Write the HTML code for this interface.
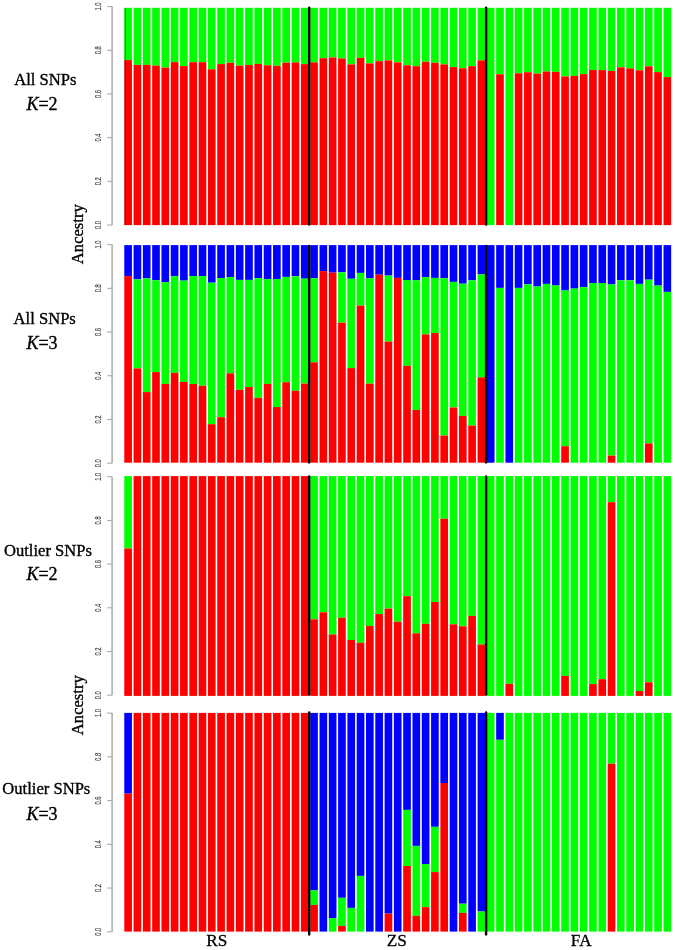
<!DOCTYPE html>
<html><head><meta charset="utf-8"><style>
html,body{margin:0;padding:0;background:#fff;}
body{width:675px;height:950px;overflow:hidden;}
svg{display:block;will-change:transform;}
</style></head><body>
<svg width="675" height="950" viewBox="0 0 675 950">
<rect x="0" y="0" width="675" height="950" fill="#fff"/>
<rect x="124.28" y="7.80" width="7.66" height="52.30" fill="#00ff00"/>
<rect x="124.28" y="60.10" width="7.66" height="165.00" fill="#ff0000"/>
<rect x="124.28" y="245.10" width="7.66" height="31.00" fill="#0000ff"/>
<rect x="124.28" y="276.10" width="7.66" height="186.60" fill="#ff0000"/>
<rect x="124.28" y="476.10" width="7.66" height="72.40" fill="#00ff00"/>
<rect x="124.28" y="548.50" width="7.66" height="147.40" fill="#ff0000"/>
<rect x="124.28" y="712.90" width="7.66" height="80.70" fill="#0000ff"/>
<rect x="124.28" y="793.60" width="7.66" height="138.00" fill="#ff0000"/>
<rect x="133.58" y="7.80" width="7.66" height="57.10" fill="#00ff00"/>
<rect x="133.58" y="64.90" width="7.66" height="160.20" fill="#ff0000"/>
<rect x="133.58" y="245.10" width="7.66" height="34.30" fill="#0000ff"/>
<rect x="133.58" y="279.40" width="7.66" height="89.00" fill="#00ff00"/>
<rect x="133.58" y="368.40" width="7.66" height="94.30" fill="#ff0000"/>
<rect x="133.58" y="476.10" width="7.66" height="219.80" fill="#ff0000"/>
<rect x="133.58" y="712.90" width="7.66" height="218.70" fill="#ff0000"/>
<rect x="142.87" y="7.80" width="7.66" height="57.10" fill="#00ff00"/>
<rect x="142.87" y="64.90" width="7.66" height="160.20" fill="#ff0000"/>
<rect x="142.87" y="245.10" width="7.66" height="33.30" fill="#0000ff"/>
<rect x="142.87" y="278.40" width="7.66" height="113.70" fill="#00ff00"/>
<rect x="142.87" y="392.10" width="7.66" height="70.60" fill="#ff0000"/>
<rect x="142.87" y="476.10" width="7.66" height="219.80" fill="#ff0000"/>
<rect x="142.87" y="712.90" width="7.66" height="218.70" fill="#ff0000"/>
<rect x="152.17" y="7.80" width="7.66" height="57.80" fill="#00ff00"/>
<rect x="152.17" y="65.60" width="7.66" height="159.50" fill="#ff0000"/>
<rect x="152.17" y="245.10" width="7.66" height="35.20" fill="#0000ff"/>
<rect x="152.17" y="280.30" width="7.66" height="91.80" fill="#00ff00"/>
<rect x="152.17" y="372.10" width="7.66" height="90.60" fill="#ff0000"/>
<rect x="152.17" y="476.10" width="7.66" height="219.80" fill="#ff0000"/>
<rect x="152.17" y="712.90" width="7.66" height="218.70" fill="#ff0000"/>
<rect x="161.47" y="7.80" width="7.66" height="59.80" fill="#00ff00"/>
<rect x="161.47" y="67.60" width="7.66" height="157.50" fill="#ff0000"/>
<rect x="161.47" y="245.10" width="7.66" height="37.10" fill="#0000ff"/>
<rect x="161.47" y="282.20" width="7.66" height="101.70" fill="#00ff00"/>
<rect x="161.47" y="383.90" width="7.66" height="78.80" fill="#ff0000"/>
<rect x="161.47" y="476.10" width="7.66" height="219.80" fill="#ff0000"/>
<rect x="161.47" y="712.90" width="7.66" height="218.70" fill="#ff0000"/>
<rect x="170.76" y="7.80" width="7.66" height="54.30" fill="#00ff00"/>
<rect x="170.76" y="62.10" width="7.66" height="163.00" fill="#ff0000"/>
<rect x="170.76" y="245.10" width="7.66" height="31.20" fill="#0000ff"/>
<rect x="170.76" y="276.30" width="7.66" height="96.60" fill="#00ff00"/>
<rect x="170.76" y="372.90" width="7.66" height="89.80" fill="#ff0000"/>
<rect x="170.76" y="476.10" width="7.66" height="219.80" fill="#ff0000"/>
<rect x="170.76" y="712.90" width="7.66" height="218.70" fill="#ff0000"/>
<rect x="180.06" y="7.80" width="7.66" height="58.30" fill="#00ff00"/>
<rect x="180.06" y="66.10" width="7.66" height="159.00" fill="#ff0000"/>
<rect x="180.06" y="245.10" width="7.66" height="35.50" fill="#0000ff"/>
<rect x="180.06" y="280.60" width="7.66" height="101.30" fill="#00ff00"/>
<rect x="180.06" y="381.90" width="7.66" height="80.80" fill="#ff0000"/>
<rect x="180.06" y="476.10" width="7.66" height="219.80" fill="#ff0000"/>
<rect x="180.06" y="712.90" width="7.66" height="218.70" fill="#ff0000"/>
<rect x="189.36" y="7.80" width="7.66" height="54.40" fill="#00ff00"/>
<rect x="189.36" y="62.20" width="7.66" height="162.90" fill="#ff0000"/>
<rect x="189.36" y="245.10" width="7.66" height="31.00" fill="#0000ff"/>
<rect x="189.36" y="276.10" width="7.66" height="107.90" fill="#00ff00"/>
<rect x="189.36" y="384.00" width="7.66" height="78.70" fill="#ff0000"/>
<rect x="189.36" y="476.10" width="7.66" height="219.80" fill="#ff0000"/>
<rect x="189.36" y="712.90" width="7.66" height="218.70" fill="#ff0000"/>
<rect x="198.66" y="7.80" width="7.66" height="54.40" fill="#00ff00"/>
<rect x="198.66" y="62.20" width="7.66" height="162.90" fill="#ff0000"/>
<rect x="198.66" y="245.10" width="7.66" height="31.00" fill="#0000ff"/>
<rect x="198.66" y="276.10" width="7.66" height="109.70" fill="#00ff00"/>
<rect x="198.66" y="385.80" width="7.66" height="76.90" fill="#ff0000"/>
<rect x="198.66" y="476.10" width="7.66" height="219.80" fill="#ff0000"/>
<rect x="198.66" y="712.90" width="7.66" height="218.70" fill="#ff0000"/>
<rect x="207.95" y="7.80" width="7.66" height="61.50" fill="#00ff00"/>
<rect x="207.95" y="69.30" width="7.66" height="155.80" fill="#ff0000"/>
<rect x="207.95" y="245.10" width="7.66" height="37.60" fill="#0000ff"/>
<rect x="207.95" y="282.70" width="7.66" height="141.50" fill="#00ff00"/>
<rect x="207.95" y="424.20" width="7.66" height="38.50" fill="#ff0000"/>
<rect x="207.95" y="476.10" width="7.66" height="219.80" fill="#ff0000"/>
<rect x="207.95" y="712.90" width="7.66" height="218.70" fill="#ff0000"/>
<rect x="217.25" y="7.80" width="7.66" height="56.30" fill="#00ff00"/>
<rect x="217.25" y="64.10" width="7.66" height="161.00" fill="#ff0000"/>
<rect x="217.25" y="245.10" width="7.66" height="32.90" fill="#0000ff"/>
<rect x="217.25" y="278.00" width="7.66" height="139.20" fill="#00ff00"/>
<rect x="217.25" y="417.20" width="7.66" height="45.50" fill="#ff0000"/>
<rect x="217.25" y="476.10" width="7.66" height="219.80" fill="#ff0000"/>
<rect x="217.25" y="712.90" width="7.66" height="218.70" fill="#ff0000"/>
<rect x="226.55" y="7.80" width="7.66" height="55.00" fill="#00ff00"/>
<rect x="226.55" y="62.80" width="7.66" height="162.30" fill="#ff0000"/>
<rect x="226.55" y="245.10" width="7.66" height="31.90" fill="#0000ff"/>
<rect x="226.55" y="277.00" width="7.66" height="96.30" fill="#00ff00"/>
<rect x="226.55" y="373.30" width="7.66" height="89.40" fill="#ff0000"/>
<rect x="226.55" y="476.10" width="7.66" height="219.80" fill="#ff0000"/>
<rect x="226.55" y="712.90" width="7.66" height="218.70" fill="#ff0000"/>
<rect x="235.84" y="7.80" width="7.66" height="57.80" fill="#00ff00"/>
<rect x="235.84" y="65.60" width="7.66" height="159.50" fill="#ff0000"/>
<rect x="235.84" y="245.10" width="7.66" height="34.80" fill="#0000ff"/>
<rect x="235.84" y="279.90" width="7.66" height="109.90" fill="#00ff00"/>
<rect x="235.84" y="389.80" width="7.66" height="72.90" fill="#ff0000"/>
<rect x="235.84" y="476.10" width="7.66" height="219.80" fill="#ff0000"/>
<rect x="235.84" y="712.90" width="7.66" height="218.70" fill="#ff0000"/>
<rect x="245.14" y="7.80" width="7.66" height="57.20" fill="#00ff00"/>
<rect x="245.14" y="65.00" width="7.66" height="160.10" fill="#ff0000"/>
<rect x="245.14" y="245.10" width="7.66" height="34.80" fill="#0000ff"/>
<rect x="245.14" y="279.90" width="7.66" height="107.10" fill="#00ff00"/>
<rect x="245.14" y="387.00" width="7.66" height="75.70" fill="#ff0000"/>
<rect x="245.14" y="476.10" width="7.66" height="219.80" fill="#ff0000"/>
<rect x="245.14" y="712.90" width="7.66" height="218.70" fill="#ff0000"/>
<rect x="254.44" y="7.80" width="7.66" height="56.10" fill="#00ff00"/>
<rect x="254.44" y="63.90" width="7.66" height="161.20" fill="#ff0000"/>
<rect x="254.44" y="245.10" width="7.66" height="33.00" fill="#0000ff"/>
<rect x="254.44" y="278.10" width="7.66" height="119.70" fill="#00ff00"/>
<rect x="254.44" y="397.80" width="7.66" height="64.90" fill="#ff0000"/>
<rect x="254.44" y="476.10" width="7.66" height="219.80" fill="#ff0000"/>
<rect x="254.44" y="712.90" width="7.66" height="218.70" fill="#ff0000"/>
<rect x="263.74" y="7.80" width="7.66" height="57.50" fill="#00ff00"/>
<rect x="263.74" y="65.30" width="7.66" height="159.80" fill="#ff0000"/>
<rect x="263.74" y="245.10" width="7.66" height="34.00" fill="#0000ff"/>
<rect x="263.74" y="279.10" width="7.66" height="104.80" fill="#00ff00"/>
<rect x="263.74" y="383.90" width="7.66" height="78.80" fill="#ff0000"/>
<rect x="263.74" y="476.10" width="7.66" height="219.80" fill="#ff0000"/>
<rect x="263.74" y="712.90" width="7.66" height="218.70" fill="#ff0000"/>
<rect x="273.03" y="7.80" width="7.66" height="58.00" fill="#00ff00"/>
<rect x="273.03" y="65.80" width="7.66" height="159.30" fill="#ff0000"/>
<rect x="273.03" y="245.10" width="7.66" height="33.90" fill="#0000ff"/>
<rect x="273.03" y="279.00" width="7.66" height="128.00" fill="#00ff00"/>
<rect x="273.03" y="407.00" width="7.66" height="55.70" fill="#ff0000"/>
<rect x="273.03" y="476.10" width="7.66" height="219.80" fill="#ff0000"/>
<rect x="273.03" y="712.90" width="7.66" height="218.70" fill="#ff0000"/>
<rect x="282.33" y="7.80" width="7.66" height="54.90" fill="#00ff00"/>
<rect x="282.33" y="62.70" width="7.66" height="162.40" fill="#ff0000"/>
<rect x="282.33" y="245.10" width="7.66" height="31.80" fill="#0000ff"/>
<rect x="282.33" y="276.90" width="7.66" height="105.30" fill="#00ff00"/>
<rect x="282.33" y="382.20" width="7.66" height="80.50" fill="#ff0000"/>
<rect x="282.33" y="476.10" width="7.66" height="219.80" fill="#ff0000"/>
<rect x="282.33" y="712.90" width="7.66" height="218.70" fill="#ff0000"/>
<rect x="291.63" y="7.80" width="7.66" height="54.60" fill="#00ff00"/>
<rect x="291.63" y="62.40" width="7.66" height="162.70" fill="#ff0000"/>
<rect x="291.63" y="245.10" width="7.66" height="31.20" fill="#0000ff"/>
<rect x="291.63" y="276.30" width="7.66" height="114.50" fill="#00ff00"/>
<rect x="291.63" y="390.80" width="7.66" height="71.90" fill="#ff0000"/>
<rect x="291.63" y="476.10" width="7.66" height="219.80" fill="#ff0000"/>
<rect x="291.63" y="712.90" width="7.66" height="218.70" fill="#ff0000"/>
<rect x="300.92" y="7.80" width="7.66" height="56.30" fill="#00ff00"/>
<rect x="300.92" y="64.10" width="7.66" height="161.00" fill="#ff0000"/>
<rect x="300.92" y="245.10" width="7.66" height="33.60" fill="#0000ff"/>
<rect x="300.92" y="278.70" width="7.66" height="104.90" fill="#00ff00"/>
<rect x="300.92" y="383.60" width="7.66" height="79.10" fill="#ff0000"/>
<rect x="300.92" y="476.10" width="7.66" height="219.80" fill="#ff0000"/>
<rect x="300.92" y="712.90" width="7.66" height="218.70" fill="#ff0000"/>
<rect x="310.22" y="7.80" width="7.66" height="54.60" fill="#00ff00"/>
<rect x="310.22" y="62.40" width="7.66" height="162.70" fill="#ff0000"/>
<rect x="310.22" y="245.10" width="7.66" height="33.10" fill="#0000ff"/>
<rect x="310.22" y="278.20" width="7.66" height="84.10" fill="#00ff00"/>
<rect x="310.22" y="362.30" width="7.66" height="100.40" fill="#ff0000"/>
<rect x="310.22" y="476.10" width="7.66" height="143.20" fill="#00ff00"/>
<rect x="310.22" y="619.30" width="7.66" height="76.60" fill="#ff0000"/>
<rect x="310.22" y="712.90" width="7.66" height="177.50" fill="#0000ff"/>
<rect x="310.22" y="890.40" width="7.66" height="14.50" fill="#00ff00"/>
<rect x="310.22" y="904.90" width="7.66" height="26.70" fill="#ff0000"/>
<rect x="319.52" y="7.80" width="7.66" height="50.40" fill="#00ff00"/>
<rect x="319.52" y="58.20" width="7.66" height="166.90" fill="#ff0000"/>
<rect x="319.52" y="245.10" width="7.66" height="26.00" fill="#0000ff"/>
<rect x="319.52" y="271.10" width="7.66" height="191.60" fill="#ff0000"/>
<rect x="319.52" y="476.10" width="7.66" height="136.20" fill="#00ff00"/>
<rect x="319.52" y="612.30" width="7.66" height="83.60" fill="#ff0000"/>
<rect x="319.52" y="712.90" width="7.66" height="218.70" fill="#0000ff"/>
<rect x="328.81" y="7.80" width="7.66" height="49.70" fill="#00ff00"/>
<rect x="328.81" y="57.50" width="7.66" height="167.60" fill="#ff0000"/>
<rect x="328.81" y="245.10" width="7.66" height="27.50" fill="#0000ff"/>
<rect x="328.81" y="272.60" width="7.66" height="190.10" fill="#ff0000"/>
<rect x="328.81" y="476.10" width="7.66" height="158.40" fill="#00ff00"/>
<rect x="328.81" y="634.50" width="7.66" height="61.40" fill="#ff0000"/>
<rect x="328.81" y="712.90" width="7.66" height="205.20" fill="#0000ff"/>
<rect x="328.81" y="918.10" width="7.66" height="13.50" fill="#00ff00"/>
<rect x="338.11" y="7.80" width="7.66" height="50.70" fill="#00ff00"/>
<rect x="338.11" y="58.50" width="7.66" height="166.60" fill="#ff0000"/>
<rect x="338.11" y="245.10" width="7.66" height="27.20" fill="#0000ff"/>
<rect x="338.11" y="272.30" width="7.66" height="50.40" fill="#00ff00"/>
<rect x="338.11" y="322.70" width="7.66" height="140.00" fill="#ff0000"/>
<rect x="338.11" y="476.10" width="7.66" height="141.70" fill="#00ff00"/>
<rect x="338.11" y="617.80" width="7.66" height="78.10" fill="#ff0000"/>
<rect x="338.11" y="712.90" width="7.66" height="184.90" fill="#0000ff"/>
<rect x="338.11" y="897.80" width="7.66" height="28.10" fill="#00ff00"/>
<rect x="338.11" y="925.90" width="7.66" height="5.70" fill="#ff0000"/>
<rect x="347.41" y="7.80" width="7.66" height="56.60" fill="#00ff00"/>
<rect x="347.41" y="64.40" width="7.66" height="160.70" fill="#ff0000"/>
<rect x="347.41" y="245.10" width="7.66" height="33.70" fill="#0000ff"/>
<rect x="347.41" y="278.80" width="7.66" height="89.30" fill="#00ff00"/>
<rect x="347.41" y="368.10" width="7.66" height="94.60" fill="#ff0000"/>
<rect x="347.41" y="476.10" width="7.66" height="163.90" fill="#00ff00"/>
<rect x="347.41" y="640.00" width="7.66" height="55.90" fill="#ff0000"/>
<rect x="347.41" y="712.90" width="7.66" height="195.00" fill="#0000ff"/>
<rect x="347.41" y="907.90" width="7.66" height="23.70" fill="#00ff00"/>
<rect x="356.71" y="7.80" width="7.66" height="50.10" fill="#00ff00"/>
<rect x="356.71" y="57.90" width="7.66" height="167.20" fill="#ff0000"/>
<rect x="356.71" y="245.10" width="7.66" height="27.80" fill="#0000ff"/>
<rect x="356.71" y="272.90" width="7.66" height="32.70" fill="#00ff00"/>
<rect x="356.71" y="305.60" width="7.66" height="157.10" fill="#ff0000"/>
<rect x="356.71" y="476.10" width="7.66" height="166.60" fill="#00ff00"/>
<rect x="356.71" y="642.70" width="7.66" height="53.20" fill="#ff0000"/>
<rect x="356.71" y="712.90" width="7.66" height="163.00" fill="#0000ff"/>
<rect x="356.71" y="875.90" width="7.66" height="55.70" fill="#00ff00"/>
<rect x="366.00" y="7.80" width="7.66" height="55.60" fill="#00ff00"/>
<rect x="366.00" y="63.40" width="7.66" height="161.70" fill="#ff0000"/>
<rect x="366.00" y="245.10" width="7.66" height="33.10" fill="#0000ff"/>
<rect x="366.00" y="278.20" width="7.66" height="105.40" fill="#00ff00"/>
<rect x="366.00" y="383.60" width="7.66" height="79.10" fill="#ff0000"/>
<rect x="366.00" y="476.10" width="7.66" height="149.80" fill="#00ff00"/>
<rect x="366.00" y="625.90" width="7.66" height="70.00" fill="#ff0000"/>
<rect x="366.00" y="712.90" width="7.66" height="218.70" fill="#0000ff"/>
<rect x="375.30" y="7.80" width="7.66" height="53.40" fill="#00ff00"/>
<rect x="375.30" y="61.20" width="7.66" height="163.90" fill="#ff0000"/>
<rect x="375.30" y="245.10" width="7.66" height="29.60" fill="#0000ff"/>
<rect x="375.30" y="274.70" width="7.66" height="188.00" fill="#ff0000"/>
<rect x="375.30" y="476.10" width="7.66" height="138.00" fill="#00ff00"/>
<rect x="375.30" y="614.10" width="7.66" height="81.80" fill="#ff0000"/>
<rect x="375.30" y="712.90" width="7.66" height="218.70" fill="#0000ff"/>
<rect x="384.60" y="7.80" width="7.66" height="52.60" fill="#00ff00"/>
<rect x="384.60" y="60.40" width="7.66" height="164.70" fill="#ff0000"/>
<rect x="384.60" y="245.10" width="7.66" height="30.50" fill="#0000ff"/>
<rect x="384.60" y="275.60" width="7.66" height="66.00" fill="#00ff00"/>
<rect x="384.60" y="341.60" width="7.66" height="121.10" fill="#ff0000"/>
<rect x="384.60" y="476.10" width="7.66" height="132.50" fill="#00ff00"/>
<rect x="384.60" y="608.60" width="7.66" height="87.30" fill="#ff0000"/>
<rect x="384.60" y="712.90" width="7.66" height="200.70" fill="#0000ff"/>
<rect x="384.60" y="913.60" width="7.66" height="18.00" fill="#ff0000"/>
<rect x="393.89" y="7.80" width="7.66" height="54.60" fill="#00ff00"/>
<rect x="393.89" y="62.40" width="7.66" height="162.70" fill="#ff0000"/>
<rect x="393.89" y="245.10" width="7.66" height="32.80" fill="#0000ff"/>
<rect x="393.89" y="277.90" width="7.66" height="184.80" fill="#ff0000"/>
<rect x="393.89" y="476.10" width="7.66" height="145.60" fill="#00ff00"/>
<rect x="393.89" y="621.70" width="7.66" height="74.20" fill="#ff0000"/>
<rect x="393.89" y="712.90" width="7.66" height="218.70" fill="#0000ff"/>
<rect x="403.19" y="7.80" width="7.66" height="57.50" fill="#00ff00"/>
<rect x="403.19" y="65.30" width="7.66" height="159.80" fill="#ff0000"/>
<rect x="403.19" y="245.10" width="7.66" height="34.90" fill="#0000ff"/>
<rect x="403.19" y="280.00" width="7.66" height="85.80" fill="#00ff00"/>
<rect x="403.19" y="365.80" width="7.66" height="96.90" fill="#ff0000"/>
<rect x="403.19" y="476.10" width="7.66" height="120.10" fill="#00ff00"/>
<rect x="403.19" y="596.20" width="7.66" height="99.70" fill="#ff0000"/>
<rect x="403.19" y="712.90" width="7.66" height="97.00" fill="#0000ff"/>
<rect x="403.19" y="809.90" width="7.66" height="56.10" fill="#00ff00"/>
<rect x="403.19" y="866.00" width="7.66" height="65.60" fill="#ff0000"/>
<rect x="412.49" y="7.80" width="7.66" height="58.40" fill="#00ff00"/>
<rect x="412.49" y="66.20" width="7.66" height="158.90" fill="#ff0000"/>
<rect x="412.49" y="245.10" width="7.66" height="35.20" fill="#0000ff"/>
<rect x="412.49" y="280.30" width="7.66" height="129.70" fill="#00ff00"/>
<rect x="412.49" y="410.00" width="7.66" height="52.70" fill="#ff0000"/>
<rect x="412.49" y="476.10" width="7.66" height="157.20" fill="#00ff00"/>
<rect x="412.49" y="633.30" width="7.66" height="62.60" fill="#ff0000"/>
<rect x="412.49" y="712.90" width="7.66" height="133.00" fill="#0000ff"/>
<rect x="412.49" y="845.90" width="7.66" height="69.90" fill="#00ff00"/>
<rect x="412.49" y="915.80" width="7.66" height="15.80" fill="#ff0000"/>
<rect x="421.78" y="7.80" width="7.66" height="54.00" fill="#00ff00"/>
<rect x="421.78" y="61.80" width="7.66" height="163.30" fill="#ff0000"/>
<rect x="421.78" y="245.10" width="7.66" height="31.90" fill="#0000ff"/>
<rect x="421.78" y="277.00" width="7.66" height="57.40" fill="#00ff00"/>
<rect x="421.78" y="334.40" width="7.66" height="128.30" fill="#ff0000"/>
<rect x="421.78" y="476.10" width="7.66" height="147.70" fill="#00ff00"/>
<rect x="421.78" y="623.80" width="7.66" height="72.10" fill="#ff0000"/>
<rect x="421.78" y="712.90" width="7.66" height="151.20" fill="#0000ff"/>
<rect x="421.78" y="864.10" width="7.66" height="43.10" fill="#00ff00"/>
<rect x="421.78" y="907.20" width="7.66" height="24.40" fill="#ff0000"/>
<rect x="431.08" y="7.80" width="7.66" height="55.00" fill="#00ff00"/>
<rect x="431.08" y="62.80" width="7.66" height="162.30" fill="#ff0000"/>
<rect x="431.08" y="245.10" width="7.66" height="32.80" fill="#0000ff"/>
<rect x="431.08" y="277.90" width="7.66" height="55.10" fill="#00ff00"/>
<rect x="431.08" y="333.00" width="7.66" height="129.70" fill="#ff0000"/>
<rect x="431.08" y="476.10" width="7.66" height="125.90" fill="#00ff00"/>
<rect x="431.08" y="602.00" width="7.66" height="93.90" fill="#ff0000"/>
<rect x="431.08" y="712.90" width="7.66" height="113.90" fill="#0000ff"/>
<rect x="431.08" y="826.80" width="7.66" height="45.30" fill="#00ff00"/>
<rect x="431.08" y="872.10" width="7.66" height="59.50" fill="#ff0000"/>
<rect x="440.38" y="7.80" width="7.66" height="56.60" fill="#00ff00"/>
<rect x="440.38" y="64.40" width="7.66" height="160.70" fill="#ff0000"/>
<rect x="440.38" y="245.10" width="7.66" height="33.10" fill="#0000ff"/>
<rect x="440.38" y="278.20" width="7.66" height="157.40" fill="#00ff00"/>
<rect x="440.38" y="435.60" width="7.66" height="27.10" fill="#ff0000"/>
<rect x="440.38" y="476.10" width="7.66" height="42.60" fill="#00ff00"/>
<rect x="440.38" y="518.70" width="7.66" height="177.20" fill="#ff0000"/>
<rect x="440.38" y="712.90" width="7.66" height="70.10" fill="#0000ff"/>
<rect x="440.38" y="783.00" width="7.66" height="148.60" fill="#ff0000"/>
<rect x="449.68" y="7.80" width="7.66" height="59.30" fill="#00ff00"/>
<rect x="449.68" y="67.10" width="7.66" height="158.00" fill="#ff0000"/>
<rect x="449.68" y="245.10" width="7.66" height="36.80" fill="#0000ff"/>
<rect x="449.68" y="281.90" width="7.66" height="125.60" fill="#00ff00"/>
<rect x="449.68" y="407.50" width="7.66" height="55.20" fill="#ff0000"/>
<rect x="449.68" y="476.10" width="7.66" height="148.20" fill="#00ff00"/>
<rect x="449.68" y="624.30" width="7.66" height="71.60" fill="#ff0000"/>
<rect x="449.68" y="712.90" width="7.66" height="218.70" fill="#0000ff"/>
<rect x="458.97" y="7.80" width="7.66" height="60.50" fill="#00ff00"/>
<rect x="458.97" y="68.30" width="7.66" height="156.80" fill="#ff0000"/>
<rect x="458.97" y="245.10" width="7.66" height="38.60" fill="#0000ff"/>
<rect x="458.97" y="283.70" width="7.66" height="132.20" fill="#00ff00"/>
<rect x="458.97" y="415.90" width="7.66" height="46.80" fill="#ff0000"/>
<rect x="458.97" y="476.10" width="7.66" height="150.20" fill="#00ff00"/>
<rect x="458.97" y="626.30" width="7.66" height="69.60" fill="#ff0000"/>
<rect x="458.97" y="712.90" width="7.66" height="190.80" fill="#0000ff"/>
<rect x="458.97" y="903.70" width="7.66" height="9.20" fill="#00ff00"/>
<rect x="458.97" y="912.90" width="7.66" height="18.70" fill="#ff0000"/>
<rect x="468.27" y="7.80" width="7.66" height="58.40" fill="#00ff00"/>
<rect x="468.27" y="66.20" width="7.66" height="158.90" fill="#ff0000"/>
<rect x="468.27" y="245.10" width="7.66" height="35.20" fill="#0000ff"/>
<rect x="468.27" y="280.30" width="7.66" height="145.30" fill="#00ff00"/>
<rect x="468.27" y="425.60" width="7.66" height="37.10" fill="#ff0000"/>
<rect x="468.27" y="476.10" width="7.66" height="139.80" fill="#00ff00"/>
<rect x="468.27" y="615.90" width="7.66" height="80.00" fill="#ff0000"/>
<rect x="468.27" y="712.90" width="7.66" height="218.70" fill="#0000ff"/>
<rect x="477.57" y="7.80" width="7.66" height="52.60" fill="#00ff00"/>
<rect x="477.57" y="60.40" width="7.66" height="164.70" fill="#ff0000"/>
<rect x="477.57" y="245.10" width="7.66" height="29.30" fill="#0000ff"/>
<rect x="477.57" y="274.40" width="7.66" height="103.00" fill="#00ff00"/>
<rect x="477.57" y="377.40" width="7.66" height="85.30" fill="#ff0000"/>
<rect x="477.57" y="476.10" width="7.66" height="168.40" fill="#00ff00"/>
<rect x="477.57" y="644.50" width="7.66" height="51.40" fill="#ff0000"/>
<rect x="477.57" y="712.90" width="7.66" height="198.60" fill="#0000ff"/>
<rect x="477.57" y="911.50" width="7.66" height="20.10" fill="#00ff00"/>
<rect x="486.86" y="7.80" width="7.66" height="217.30" fill="#00ff00"/>
<rect x="486.86" y="245.10" width="7.66" height="217.60" fill="#0000ff"/>
<rect x="486.86" y="476.10" width="7.66" height="219.80" fill="#00ff00"/>
<rect x="486.86" y="712.90" width="7.66" height="218.70" fill="#00ff00"/>
<rect x="496.16" y="7.80" width="7.66" height="66.50" fill="#00ff00"/>
<rect x="496.16" y="74.30" width="7.66" height="150.80" fill="#ff0000"/>
<rect x="496.16" y="245.10" width="7.66" height="42.80" fill="#0000ff"/>
<rect x="496.16" y="287.90" width="7.66" height="174.80" fill="#00ff00"/>
<rect x="496.16" y="476.10" width="7.66" height="219.80" fill="#00ff00"/>
<rect x="496.16" y="712.90" width="7.66" height="26.90" fill="#0000ff"/>
<rect x="496.16" y="739.80" width="7.66" height="191.80" fill="#00ff00"/>
<rect x="505.46" y="7.80" width="7.66" height="217.30" fill="#00ff00"/>
<rect x="505.46" y="245.10" width="7.66" height="217.60" fill="#0000ff"/>
<rect x="505.46" y="476.10" width="7.66" height="207.70" fill="#00ff00"/>
<rect x="505.46" y="683.80" width="7.66" height="12.10" fill="#ff0000"/>
<rect x="505.46" y="712.90" width="7.66" height="218.70" fill="#00ff00"/>
<rect x="514.75" y="7.80" width="7.66" height="65.50" fill="#00ff00"/>
<rect x="514.75" y="73.30" width="7.66" height="151.80" fill="#ff0000"/>
<rect x="514.75" y="245.10" width="7.66" height="42.80" fill="#0000ff"/>
<rect x="514.75" y="287.90" width="7.66" height="174.80" fill="#00ff00"/>
<rect x="514.75" y="476.10" width="7.66" height="219.80" fill="#00ff00"/>
<rect x="514.75" y="712.90" width="7.66" height="218.70" fill="#00ff00"/>
<rect x="524.05" y="7.80" width="7.66" height="64.40" fill="#00ff00"/>
<rect x="524.05" y="72.20" width="7.66" height="152.90" fill="#ff0000"/>
<rect x="524.05" y="245.10" width="7.66" height="39.30" fill="#0000ff"/>
<rect x="524.05" y="284.40" width="7.66" height="178.30" fill="#00ff00"/>
<rect x="524.05" y="476.10" width="7.66" height="219.80" fill="#00ff00"/>
<rect x="524.05" y="712.90" width="7.66" height="218.70" fill="#00ff00"/>
<rect x="533.35" y="7.80" width="7.66" height="65.80" fill="#00ff00"/>
<rect x="533.35" y="73.60" width="7.66" height="151.50" fill="#ff0000"/>
<rect x="533.35" y="245.10" width="7.66" height="41.40" fill="#0000ff"/>
<rect x="533.35" y="286.50" width="7.66" height="176.20" fill="#00ff00"/>
<rect x="533.35" y="476.10" width="7.66" height="219.80" fill="#00ff00"/>
<rect x="533.35" y="712.90" width="7.66" height="218.70" fill="#00ff00"/>
<rect x="542.64" y="7.80" width="7.66" height="63.70" fill="#00ff00"/>
<rect x="542.64" y="71.50" width="7.66" height="153.60" fill="#ff0000"/>
<rect x="542.64" y="245.10" width="7.66" height="38.80" fill="#0000ff"/>
<rect x="542.64" y="283.90" width="7.66" height="178.80" fill="#00ff00"/>
<rect x="542.64" y="476.10" width="7.66" height="219.80" fill="#00ff00"/>
<rect x="542.64" y="712.90" width="7.66" height="218.70" fill="#00ff00"/>
<rect x="551.94" y="7.80" width="7.66" height="64.10" fill="#00ff00"/>
<rect x="551.94" y="71.90" width="7.66" height="153.20" fill="#ff0000"/>
<rect x="551.94" y="245.10" width="7.66" height="40.40" fill="#0000ff"/>
<rect x="551.94" y="285.50" width="7.66" height="177.20" fill="#00ff00"/>
<rect x="551.94" y="476.10" width="7.66" height="219.80" fill="#00ff00"/>
<rect x="551.94" y="712.90" width="7.66" height="218.70" fill="#00ff00"/>
<rect x="561.24" y="7.80" width="7.66" height="68.70" fill="#00ff00"/>
<rect x="561.24" y="76.50" width="7.66" height="148.60" fill="#ff0000"/>
<rect x="561.24" y="245.10" width="7.66" height="45.40" fill="#0000ff"/>
<rect x="561.24" y="290.50" width="7.66" height="155.70" fill="#00ff00"/>
<rect x="561.24" y="446.20" width="7.66" height="16.50" fill="#ff0000"/>
<rect x="561.24" y="476.10" width="7.66" height="199.80" fill="#00ff00"/>
<rect x="561.24" y="675.90" width="7.66" height="20.00" fill="#ff0000"/>
<rect x="561.24" y="712.90" width="7.66" height="218.70" fill="#00ff00"/>
<rect x="570.54" y="7.80" width="7.66" height="68.10" fill="#00ff00"/>
<rect x="570.54" y="75.90" width="7.66" height="149.20" fill="#ff0000"/>
<rect x="570.54" y="245.10" width="7.66" height="43.50" fill="#0000ff"/>
<rect x="570.54" y="288.60" width="7.66" height="174.10" fill="#00ff00"/>
<rect x="570.54" y="476.10" width="7.66" height="219.80" fill="#00ff00"/>
<rect x="570.54" y="712.90" width="7.66" height="218.70" fill="#00ff00"/>
<rect x="579.83" y="7.80" width="7.66" height="66.30" fill="#00ff00"/>
<rect x="579.83" y="74.10" width="7.66" height="151.00" fill="#ff0000"/>
<rect x="579.83" y="245.10" width="7.66" height="42.00" fill="#0000ff"/>
<rect x="579.83" y="287.10" width="7.66" height="175.60" fill="#00ff00"/>
<rect x="579.83" y="476.10" width="7.66" height="219.80" fill="#00ff00"/>
<rect x="579.83" y="712.90" width="7.66" height="218.70" fill="#00ff00"/>
<rect x="589.13" y="7.80" width="7.66" height="62.20" fill="#00ff00"/>
<rect x="589.13" y="70.00" width="7.66" height="155.10" fill="#ff0000"/>
<rect x="589.13" y="245.10" width="7.66" height="37.90" fill="#0000ff"/>
<rect x="589.13" y="283.00" width="7.66" height="179.70" fill="#00ff00"/>
<rect x="589.13" y="476.10" width="7.66" height="208.00" fill="#00ff00"/>
<rect x="589.13" y="684.10" width="7.66" height="11.80" fill="#ff0000"/>
<rect x="589.13" y="712.90" width="7.66" height="218.70" fill="#00ff00"/>
<rect x="598.43" y="7.80" width="7.66" height="62.30" fill="#00ff00"/>
<rect x="598.43" y="70.10" width="7.66" height="155.00" fill="#ff0000"/>
<rect x="598.43" y="245.10" width="7.66" height="37.90" fill="#0000ff"/>
<rect x="598.43" y="283.00" width="7.66" height="179.70" fill="#00ff00"/>
<rect x="598.43" y="476.10" width="7.66" height="203.10" fill="#00ff00"/>
<rect x="598.43" y="679.20" width="7.66" height="16.70" fill="#ff0000"/>
<rect x="598.43" y="712.90" width="7.66" height="218.70" fill="#00ff00"/>
<rect x="607.72" y="7.80" width="7.66" height="63.10" fill="#00ff00"/>
<rect x="607.72" y="70.90" width="7.66" height="154.20" fill="#ff0000"/>
<rect x="607.72" y="245.10" width="7.66" height="39.30" fill="#0000ff"/>
<rect x="607.72" y="284.40" width="7.66" height="171.20" fill="#00ff00"/>
<rect x="607.72" y="455.60" width="7.66" height="7.10" fill="#ff0000"/>
<rect x="607.72" y="476.10" width="7.66" height="26.10" fill="#00ff00"/>
<rect x="607.72" y="502.20" width="7.66" height="193.70" fill="#ff0000"/>
<rect x="607.72" y="712.90" width="7.66" height="50.80" fill="#00ff00"/>
<rect x="607.72" y="763.70" width="7.66" height="167.90" fill="#ff0000"/>
<rect x="617.02" y="7.80" width="7.66" height="59.50" fill="#00ff00"/>
<rect x="617.02" y="67.30" width="7.66" height="157.80" fill="#ff0000"/>
<rect x="617.02" y="245.10" width="7.66" height="35.20" fill="#0000ff"/>
<rect x="617.02" y="280.30" width="7.66" height="182.40" fill="#00ff00"/>
<rect x="617.02" y="476.10" width="7.66" height="219.80" fill="#00ff00"/>
<rect x="617.02" y="712.90" width="7.66" height="218.70" fill="#00ff00"/>
<rect x="626.32" y="7.80" width="7.66" height="60.60" fill="#00ff00"/>
<rect x="626.32" y="68.40" width="7.66" height="156.70" fill="#ff0000"/>
<rect x="626.32" y="245.10" width="7.66" height="35.20" fill="#0000ff"/>
<rect x="626.32" y="280.30" width="7.66" height="182.40" fill="#00ff00"/>
<rect x="626.32" y="476.10" width="7.66" height="219.80" fill="#00ff00"/>
<rect x="626.32" y="712.90" width="7.66" height="218.70" fill="#00ff00"/>
<rect x="635.62" y="7.80" width="7.66" height="62.50" fill="#00ff00"/>
<rect x="635.62" y="70.30" width="7.66" height="154.80" fill="#ff0000"/>
<rect x="635.62" y="245.10" width="7.66" height="38.80" fill="#0000ff"/>
<rect x="635.62" y="283.90" width="7.66" height="178.80" fill="#00ff00"/>
<rect x="635.62" y="476.10" width="7.66" height="214.90" fill="#00ff00"/>
<rect x="635.62" y="691.00" width="7.66" height="4.90" fill="#ff0000"/>
<rect x="635.62" y="712.90" width="7.66" height="218.70" fill="#00ff00"/>
<rect x="644.91" y="7.80" width="7.66" height="58.50" fill="#00ff00"/>
<rect x="644.91" y="66.30" width="7.66" height="158.80" fill="#ff0000"/>
<rect x="644.91" y="245.10" width="7.66" height="34.60" fill="#0000ff"/>
<rect x="644.91" y="279.70" width="7.66" height="163.70" fill="#00ff00"/>
<rect x="644.91" y="443.40" width="7.66" height="19.30" fill="#ff0000"/>
<rect x="644.91" y="476.10" width="7.66" height="206.20" fill="#00ff00"/>
<rect x="644.91" y="682.30" width="7.66" height="13.60" fill="#ff0000"/>
<rect x="644.91" y="712.90" width="7.66" height="218.70" fill="#00ff00"/>
<rect x="654.21" y="7.80" width="7.66" height="64.30" fill="#00ff00"/>
<rect x="654.21" y="72.10" width="7.66" height="153.00" fill="#ff0000"/>
<rect x="654.21" y="245.10" width="7.66" height="40.50" fill="#0000ff"/>
<rect x="654.21" y="285.60" width="7.66" height="177.10" fill="#00ff00"/>
<rect x="654.21" y="476.10" width="7.66" height="219.80" fill="#00ff00"/>
<rect x="654.21" y="712.90" width="7.66" height="218.70" fill="#00ff00"/>
<rect x="663.51" y="7.80" width="7.66" height="69.30" fill="#00ff00"/>
<rect x="663.51" y="77.10" width="7.66" height="148.00" fill="#ff0000"/>
<rect x="663.51" y="245.10" width="7.66" height="46.80" fill="#0000ff"/>
<rect x="663.51" y="291.90" width="7.66" height="170.80" fill="#00ff00"/>
<rect x="663.51" y="476.10" width="7.66" height="219.80" fill="#00ff00"/>
<rect x="663.51" y="712.90" width="7.66" height="218.70" fill="#00ff00"/>
<rect x="124.58" y="7.80" width="1.1" height="217.30" fill="#000" fill-opacity="0.35"/>
<line x1="309.2" y1="7.7" x2="309.2" y2="224.6" stroke="#000" stroke-width="2.4" stroke-linecap="round"/>
<line x1="309.2" y1="246.0" x2="309.2" y2="462.4" stroke="#000" stroke-width="2.4" stroke-linecap="round"/>
<line x1="309.2" y1="476.4" x2="309.2" y2="694.6" stroke="#000" stroke-width="2.4" stroke-linecap="round"/>
<line x1="309.2" y1="712.4" x2="309.2" y2="934.4" stroke="#000" stroke-width="2.4" stroke-linecap="round"/>
<line x1="486.1" y1="7.7" x2="486.1" y2="224.6" stroke="#000" stroke-width="2.4" stroke-linecap="round"/>
<line x1="486.1" y1="246.0" x2="486.1" y2="462.4" stroke="#000" stroke-width="2.4" stroke-linecap="round"/>
<line x1="486.1" y1="476.4" x2="486.1" y2="694.6" stroke="#000" stroke-width="2.4" stroke-linecap="round"/>
<line x1="486.1" y1="712.4" x2="486.1" y2="934.4" stroke="#000" stroke-width="2.4" stroke-linecap="round"/>
<line x1="112.1" y1="6.60" x2="112.1" y2="225.00" stroke="#a4a4a4" stroke-width="1.4"/>
<line x1="107.2" y1="225.00" x2="112.1" y2="225.00" stroke="#a4a4a4" stroke-width="1.0"/>
<text transform="translate(101,225.00) rotate(-90) scale(0.70,1)" text-anchor="middle" font-family="Liberation Sans, sans-serif" font-size="8.2" fill="#3c3c3c" stroke="#3c3c3c" stroke-width="0.18">0.0</text>
<line x1="107.2" y1="181.32" x2="112.1" y2="181.32" stroke="#a4a4a4" stroke-width="1.0"/>
<text transform="translate(101,181.32) rotate(-90) scale(0.70,1)" text-anchor="middle" font-family="Liberation Sans, sans-serif" font-size="8.2" fill="#3c3c3c" stroke="#3c3c3c" stroke-width="0.18">0.2</text>
<line x1="107.2" y1="137.64" x2="112.1" y2="137.64" stroke="#a4a4a4" stroke-width="1.0"/>
<text transform="translate(101,137.64) rotate(-90) scale(0.70,1)" text-anchor="middle" font-family="Liberation Sans, sans-serif" font-size="8.2" fill="#3c3c3c" stroke="#3c3c3c" stroke-width="0.18">0.4</text>
<line x1="107.2" y1="93.96" x2="112.1" y2="93.96" stroke="#a4a4a4" stroke-width="1.0"/>
<text transform="translate(101,93.96) rotate(-90) scale(0.70,1)" text-anchor="middle" font-family="Liberation Sans, sans-serif" font-size="8.2" fill="#3c3c3c" stroke="#3c3c3c" stroke-width="0.18">0.6</text>
<line x1="107.2" y1="50.28" x2="112.1" y2="50.28" stroke="#a4a4a4" stroke-width="1.0"/>
<text transform="translate(101,50.28) rotate(-90) scale(0.70,1)" text-anchor="middle" font-family="Liberation Sans, sans-serif" font-size="8.2" fill="#3c3c3c" stroke="#3c3c3c" stroke-width="0.18">0.8</text>
<line x1="107.2" y1="6.60" x2="112.1" y2="6.60" stroke="#a4a4a4" stroke-width="1.0"/>
<text transform="translate(101,6.60) rotate(-90) scale(0.70,1)" text-anchor="middle" font-family="Liberation Sans, sans-serif" font-size="8.2" fill="#3c3c3c" stroke="#3c3c3c" stroke-width="0.18">1.0</text>
<line x1="112.1" y1="244.60" x2="112.1" y2="463.20" stroke="#a4a4a4" stroke-width="1.4"/>
<line x1="107.2" y1="463.20" x2="112.1" y2="463.20" stroke="#a4a4a4" stroke-width="1.0"/>
<text transform="translate(101,463.20) rotate(-90) scale(0.70,1)" text-anchor="middle" font-family="Liberation Sans, sans-serif" font-size="8.2" fill="#3c3c3c" stroke="#3c3c3c" stroke-width="0.18">0.0</text>
<line x1="107.2" y1="419.48" x2="112.1" y2="419.48" stroke="#a4a4a4" stroke-width="1.0"/>
<text transform="translate(101,419.48) rotate(-90) scale(0.70,1)" text-anchor="middle" font-family="Liberation Sans, sans-serif" font-size="8.2" fill="#3c3c3c" stroke="#3c3c3c" stroke-width="0.18">0.2</text>
<line x1="107.2" y1="375.76" x2="112.1" y2="375.76" stroke="#a4a4a4" stroke-width="1.0"/>
<text transform="translate(101,375.76) rotate(-90) scale(0.70,1)" text-anchor="middle" font-family="Liberation Sans, sans-serif" font-size="8.2" fill="#3c3c3c" stroke="#3c3c3c" stroke-width="0.18">0.4</text>
<line x1="107.2" y1="332.04" x2="112.1" y2="332.04" stroke="#a4a4a4" stroke-width="1.0"/>
<text transform="translate(101,332.04) rotate(-90) scale(0.70,1)" text-anchor="middle" font-family="Liberation Sans, sans-serif" font-size="8.2" fill="#3c3c3c" stroke="#3c3c3c" stroke-width="0.18">0.6</text>
<line x1="107.2" y1="288.32" x2="112.1" y2="288.32" stroke="#a4a4a4" stroke-width="1.0"/>
<text transform="translate(101,288.32) rotate(-90) scale(0.70,1)" text-anchor="middle" font-family="Liberation Sans, sans-serif" font-size="8.2" fill="#3c3c3c" stroke="#3c3c3c" stroke-width="0.18">0.8</text>
<line x1="107.2" y1="244.60" x2="112.1" y2="244.60" stroke="#a4a4a4" stroke-width="1.0"/>
<text transform="translate(101,244.60) rotate(-90) scale(0.70,1)" text-anchor="middle" font-family="Liberation Sans, sans-serif" font-size="8.2" fill="#3c3c3c" stroke="#3c3c3c" stroke-width="0.18">1.0</text>
<line x1="112.1" y1="476.70" x2="112.1" y2="695.20" stroke="#a4a4a4" stroke-width="1.4"/>
<line x1="107.2" y1="695.20" x2="112.1" y2="695.20" stroke="#a4a4a4" stroke-width="1.0"/>
<text transform="translate(101,695.20) rotate(-90) scale(0.70,1)" text-anchor="middle" font-family="Liberation Sans, sans-serif" font-size="8.2" fill="#3c3c3c" stroke="#3c3c3c" stroke-width="0.18">0.0</text>
<line x1="107.2" y1="651.50" x2="112.1" y2="651.50" stroke="#a4a4a4" stroke-width="1.0"/>
<text transform="translate(101,651.50) rotate(-90) scale(0.70,1)" text-anchor="middle" font-family="Liberation Sans, sans-serif" font-size="8.2" fill="#3c3c3c" stroke="#3c3c3c" stroke-width="0.18">0.2</text>
<line x1="107.2" y1="607.80" x2="112.1" y2="607.80" stroke="#a4a4a4" stroke-width="1.0"/>
<text transform="translate(101,607.80) rotate(-90) scale(0.70,1)" text-anchor="middle" font-family="Liberation Sans, sans-serif" font-size="8.2" fill="#3c3c3c" stroke="#3c3c3c" stroke-width="0.18">0.4</text>
<line x1="107.2" y1="564.10" x2="112.1" y2="564.10" stroke="#a4a4a4" stroke-width="1.0"/>
<text transform="translate(101,564.10) rotate(-90) scale(0.70,1)" text-anchor="middle" font-family="Liberation Sans, sans-serif" font-size="8.2" fill="#3c3c3c" stroke="#3c3c3c" stroke-width="0.18">0.6</text>
<line x1="107.2" y1="520.40" x2="112.1" y2="520.40" stroke="#a4a4a4" stroke-width="1.0"/>
<text transform="translate(101,520.40) rotate(-90) scale(0.70,1)" text-anchor="middle" font-family="Liberation Sans, sans-serif" font-size="8.2" fill="#3c3c3c" stroke="#3c3c3c" stroke-width="0.18">0.8</text>
<line x1="107.2" y1="476.70" x2="112.1" y2="476.70" stroke="#a4a4a4" stroke-width="1.0"/>
<text transform="translate(101,476.70) rotate(-90) scale(0.70,1)" text-anchor="middle" font-family="Liberation Sans, sans-serif" font-size="8.2" fill="#3c3c3c" stroke="#3c3c3c" stroke-width="0.18">1.0</text>
<line x1="112.1" y1="713.10" x2="112.1" y2="931.80" stroke="#a4a4a4" stroke-width="1.4"/>
<line x1="107.2" y1="931.80" x2="112.1" y2="931.80" stroke="#a4a4a4" stroke-width="1.0"/>
<text transform="translate(101,931.80) rotate(-90) scale(0.70,1)" text-anchor="middle" font-family="Liberation Sans, sans-serif" font-size="8.2" fill="#3c3c3c" stroke="#3c3c3c" stroke-width="0.18">0.0</text>
<line x1="107.2" y1="888.06" x2="112.1" y2="888.06" stroke="#a4a4a4" stroke-width="1.0"/>
<text transform="translate(101,888.06) rotate(-90) scale(0.70,1)" text-anchor="middle" font-family="Liberation Sans, sans-serif" font-size="8.2" fill="#3c3c3c" stroke="#3c3c3c" stroke-width="0.18">0.2</text>
<line x1="107.2" y1="844.32" x2="112.1" y2="844.32" stroke="#a4a4a4" stroke-width="1.0"/>
<text transform="translate(101,844.32) rotate(-90) scale(0.70,1)" text-anchor="middle" font-family="Liberation Sans, sans-serif" font-size="8.2" fill="#3c3c3c" stroke="#3c3c3c" stroke-width="0.18">0.4</text>
<line x1="107.2" y1="800.58" x2="112.1" y2="800.58" stroke="#a4a4a4" stroke-width="1.0"/>
<text transform="translate(101,800.58) rotate(-90) scale(0.70,1)" text-anchor="middle" font-family="Liberation Sans, sans-serif" font-size="8.2" fill="#3c3c3c" stroke="#3c3c3c" stroke-width="0.18">0.6</text>
<line x1="107.2" y1="756.84" x2="112.1" y2="756.84" stroke="#a4a4a4" stroke-width="1.0"/>
<text transform="translate(101,756.84) rotate(-90) scale(0.70,1)" text-anchor="middle" font-family="Liberation Sans, sans-serif" font-size="8.2" fill="#3c3c3c" stroke="#3c3c3c" stroke-width="0.18">0.8</text>
<line x1="107.2" y1="713.10" x2="112.1" y2="713.10" stroke="#a4a4a4" stroke-width="1.0"/>
<text transform="translate(101,713.10) rotate(-90) scale(0.70,1)" text-anchor="middle" font-family="Liberation Sans, sans-serif" font-size="8.2" fill="#3c3c3c" stroke="#3c3c3c" stroke-width="0.18">1.0</text>
<text x="45.3" y="84.7" text-anchor="middle" font-family="Liberation Serif, serif" font-size="16.6" fill="#000" stroke="#000" stroke-width="0.35">All SNPs</text>
<text x="42.0" y="109.6" text-anchor="middle" font-family="Liberation Serif, serif" font-size="18" fill="#000" stroke="#000" stroke-width="0.35"><tspan font-style="italic">K</tspan>=2</text>
<text x="44.7" y="323.6" text-anchor="middle" font-family="Liberation Serif, serif" font-size="16.6" fill="#000" stroke="#000" stroke-width="0.35">All SNPs</text>
<text x="42.0" y="348.6" text-anchor="middle" font-family="Liberation Serif, serif" font-size="18" fill="#000" stroke="#000" stroke-width="0.35"><tspan font-style="italic">K</tspan>=3</text>
<text x="48.0" y="556.3" text-anchor="middle" font-family="Liberation Serif, serif" font-size="16.6" fill="#000" stroke="#000" stroke-width="0.35">Outlier SNPs</text>
<text x="42.0" y="580.4" text-anchor="middle" font-family="Liberation Serif, serif" font-size="18" fill="#000" stroke="#000" stroke-width="0.35"><tspan font-style="italic">K</tspan>=2</text>
<text x="46.3" y="794.0" text-anchor="middle" font-family="Liberation Serif, serif" font-size="16.6" fill="#000" stroke="#000" stroke-width="0.35">Outlier SNPs</text>
<text x="42.0" y="819.6" text-anchor="middle" font-family="Liberation Serif, serif" font-size="18" fill="#000" stroke="#000" stroke-width="0.35"><tspan font-style="italic">K</tspan>=3</text>
<text transform="translate(83.1,234.2) rotate(-90)" text-anchor="middle" font-family="Liberation Serif, serif" font-size="16.6" fill="#000" stroke="#000" stroke-width="0.35">Ancestry</text>
<text transform="translate(83.1,705.2) rotate(-90)" text-anchor="middle" font-family="Liberation Serif, serif" font-size="16.6" fill="#000" stroke="#000" stroke-width="0.35">Ancestry</text>
<text x="216.7" y="946.0" text-anchor="middle" font-family="Liberation Serif, serif" font-size="17.2" fill="#000" stroke="#000" stroke-width="0.3">RS</text>
<text x="396.9" y="946.0" text-anchor="middle" font-family="Liberation Serif, serif" font-size="17.2" fill="#000" stroke="#000" stroke-width="0.3">ZS</text>
<text x="581.2" y="946.0" text-anchor="middle" font-family="Liberation Serif, serif" font-size="17.2" fill="#000" stroke="#000" stroke-width="0.3">FA</text>
</svg>
</body></html>
